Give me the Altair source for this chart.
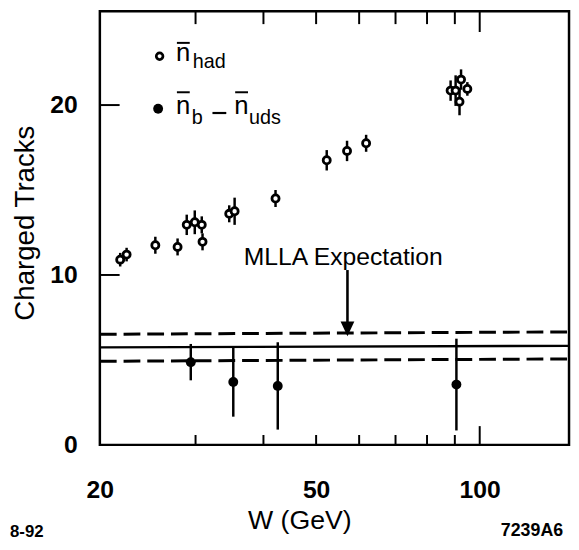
import altair as alt
import pandas as pd

# ---- data ----
W_had = [21.8, 22.4, 25.3, 27.8, 28.9, 29.9, 30.8, 30.9, 34.6, 35.4, 42.1, 52.3, 57.0, 61.8,
         88.4, 90.3, 92.4, 94.9, 91.8]
n_had = [10.9, 11.2, 11.75, 11.65, 12.95, 13.1, 12.95, 11.95, 13.6, 13.75, 14.5, 16.75, 17.3, 17.75,
         20.85, 20.85, 21.5, 20.95, 20.2]
err_had = [0.4, 0.4, 0.5, 0.5, 0.6, 0.7, 0.5, 0.5, 0.5, 0.8, 0.5, 0.6, 0.6, 0.5,
           0.6, 0.9, 0.6, 0.4, 0.8]

W_b = [29.4, 35.2, 42.5, 90.6]
n_b = [4.87, 3.70, 3.47, 3.55]
err_b = [1.07, 2.04, 2.57, 2.70]

mlla_W = [20, 146]
mlla_center = [5.74, 5.83]
mlla_upper = [6.51, 6.65]
mlla_lower = [4.92, 5.06]

x_tick_values = [30, 40, 50, 60, 70, 80, 90]
x_long_tick = [100]
y_tick_values = [10, 20]
x_label_values = [20, 50, 100]
y_label_values = [0, 10, 20]

arrow_W = [57.1]
arrow_top = [10.29]
arrow_head = [6.83]
note_W = [36.8]
note_y = [10.58]
note_text = ["MLLA Expectation"]

FONT = "Liberation Sans"
W_PLOT, H_PLOT = 475, 439

had = pd.DataFrame({"W": W_had, "n": n_had})
had["lo"] = [a - b for a, b in zip(n_had, err_had)]
had["hi"] = [a + b for a, b in zip(n_had, err_had)]
bdf = pd.DataFrame({"W": W_b, "n": n_b})
bdf["lo"] = [a - b for a, b in zip(n_b, err_b)]
bdf["hi"] = [a + b for a, b in zip(n_b, err_b)]
mlla = pd.DataFrame({"W": mlla_W, "c": mlla_center, "u": mlla_upper, "l": mlla_lower})
xt = pd.DataFrame({"W": x_tick_values})
xlt = pd.DataFrame({"W": x_long_tick})
yt = pd.DataFrame({"v": y_tick_values})
arrow = pd.DataFrame({"W": arrow_W, "top": arrow_top, "head": arrow_head})
note = pd.DataFrame({"W": note_W, "y": note_y, "t": note_text})
one = pd.DataFrame({"a": [0]})

xscale = alt.Scale(type="log", domain=[20, 146], nice=False)
yscale = alt.Scale(domain=[0, 25.52], nice=False, zero=False)
xaxis = alt.Axis(values=x_label_values, format="d", ticks=False, tickSize=0, domain=False, grid=False,
                 labelFont=FONT, labelFontSize=25, labelFontWeight="bold", labelColor="black",
                 labelPadding=33, labelFlush=False, labelOverlap=False,
                 title="W  (GeV)", titleFont=FONT, titleFontSize=27, titleFontWeight="normal",
                 titleColor="black", titleX=202, titleY=85, titleBaseline="alphabetic", titleAlign="center")
yaxis = alt.Axis(values=y_label_values, format="d", ticks=False, tickSize=0, domain=False, grid=False,
                 labelFont=FONT, labelFontSize=25, labelFontWeight="bold", labelColor="black",
                 labelPadding=23, labelFlush=False, labelOverlap=False,
                 title="Charged Tracks", titleFont=FONT, titleFontSize=28, titleFontWeight="normal",
                 titleColor="black", titleX=-67, titleY=214, titleAngle=270,
                 titleBaseline="alphabetic", titleAlign="center")


def X(f):
    return alt.X(f, type="quantitative", scale=xscale, axis=xaxis)


def Y(f):
    return alt.Y(f, type="quantitative", scale=yscale, axis=yaxis)


layers = []
# error bars + points
layers.append(alt.Chart(had).mark_rule(color="black", strokeWidth=2.5).encode(x=X("W"), y=Y("lo"), y2="hi"))
layers.append(alt.Chart(had).mark_point(shape="circle", filled=True, fill="white", stroke="black",
                                        strokeWidth=2.8, size=52, opacity=1).encode(x=X("W"), y=Y("n")))
layers.append(alt.Chart(bdf).mark_rule(color="black", strokeWidth=2.5).encode(x=X("W"), y=Y("lo"), y2="hi"))
layers.append(alt.Chart(bdf).mark_point(shape="circle", filled=True, color="black", size=100,
                                        opacity=1).encode(x=X("W"), y=Y("n")))
# MLLA band
layers.append(alt.Chart(mlla).mark_line(color="black", strokeWidth=2.4).encode(x=X("W"), y=Y("c")))
layers.append(alt.Chart(mlla).mark_line(color="black", strokeWidth=3, strokeDash=[17, 7]).encode(x=X("W"), y=Y("u")))
layers.append(alt.Chart(mlla).mark_line(color="black", strokeWidth=3, strokeDash=[17, 7]).encode(x=X("W"), y=Y("l")))
# arrow and annotation
layers.append(alt.Chart(arrow).mark_rule(color="black", strokeWidth=2.6).encode(x=X("W"), y=Y("top"), y2="head"))
layers.append(alt.Chart(arrow).mark_point(shape="M-0.93,-1L0.93,-1L0,1Z", filled=True, color="black",
                                          size=225, opacity=1).encode(x=X("W"), y=Y("head")))
layers.append(alt.Chart(note).mark_text(font=FONT, fontSize=25, align="left", baseline="alphabetic",
                                        color="black").encode(x=X("W"), y=Y("y"), text="t"))
# inside ticks
layers.append(alt.Chart(xt).mark_rule(color="black", strokeWidth=2).encode(
    x=X("W"), y=alt.value(0), y2=alt.value(13)))
layers.append(alt.Chart(xlt).mark_rule(color="black", strokeWidth=2).encode(
    x=X("W"), y=alt.value(0), y2=alt.value(21)))
layers.append(alt.Chart(xt).mark_rule(color="black", strokeWidth=2).encode(
    x=X("W"), y=alt.value(H_PLOT), y2=alt.value(H_PLOT - 10)))
layers.append(alt.Chart(xlt).mark_rule(color="black", strokeWidth=2).encode(
    x=X("W"), y=alt.value(H_PLOT), y2=alt.value(H_PLOT - 19)))
layers.append(alt.Chart(yt).mark_rule(color="black", strokeWidth=2).encode(
    y=Y("v"), x=alt.value(0), x2=alt.value(20)))

# legend (hand-drawn, as in the figure)
def txt(s, x, y, size):
    return alt.Chart(one).mark_text(text=s, font=FONT, fontSize=size, align="left", baseline="alphabetic",
                                    color="black").encode(x=alt.value(x), y=alt.value(y))


def bar(x1, x2, y, w=2):
    return alt.Chart(one).mark_rule(color="black", strokeWidth=w).encode(
        x=alt.value(x1), x2=alt.value(x2), y=alt.value(y))


layers.append(alt.Chart(one).mark_point(shape="circle", filled=True, fill="white", stroke="black",
                                        strokeWidth=2.8, size=45, opacity=1).encode(x=alt.value(60.5), y=alt.value(45.5)))
layers.append(txt("n", 77, 50, 26))
layers.append(bar(78, 91, 32))
layers.append(txt("had", 94, 57, 20))
layers.append(alt.Chart(one).mark_point(shape="circle", filled=True, color="black", size=100,
                                        opacity=1).encode(x=alt.value(59), y=alt.value(98.7)))
layers.append(txt("n", 77, 104, 26))
layers.append(bar(78, 91, 82))
layers.append(txt("b", 93, 114, 20))
layers.append(bar(114, 128, 103, 2.2))
layers.append(txt("n", 136, 104, 26))
layers.append(bar(137, 150, 82))
layers.append(txt("uds", 151, 114, 20))

# figure codes outside the frame
layers.append(alt.Chart(one).mark_text(text="8-92", font=FONT, fontSize=17, fontWeight="bold", align="left",
                                       baseline="alphabetic", color="black").encode(x=alt.value(-91), y=alt.value(532)))
layers.append(alt.Chart(one).mark_text(text="7239A6", font=FONT, fontSize=18, fontWeight="bold", align="right",
                                       baseline="alphabetic", color="black").encode(x=alt.value(469), y=alt.value(531)))

chart = alt.layer(*layers).properties(
    width=W_PLOT, height=H_PLOT,
    autosize=alt.AutoSizeParams(type="none"),
    padding={"left": 93, "top": 0, "right": 2, "bottom": 94},
    background="white",
).configure_view(stroke="black", strokeWidth=2.5)

chart.save("out.html", embed_options={"renderer": "svg", "actions": False})
